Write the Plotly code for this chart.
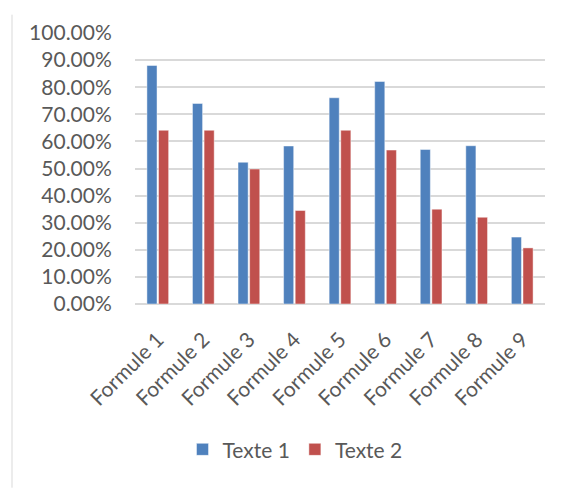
import plotly.graph_objects as go

categories = ["Formule 1", "Formule 2", "Formule 3", "Formule 4", "Formule 5",
              "Formule 6", "Formule 7", "Formule 8", "Formule 9"]
texte1 = [0.88, 0.74, 0.523, 0.583, 0.761, 0.821, 0.57, 0.584, 0.247]
texte2 = [0.641, 0.641, 0.498, 0.345, 0.641, 0.568, 0.35, 0.32, 0.207]
series_names = ["Texte 1", "Texte 2"]
colors = ["#4F81BD", "#C0504D"]
yticks = [i / 10 for i in range(11)]

W, H = 571, 488
L, R, T, B = 135, W - 545, 33, H - 304

FONT = "Lato"
TXT = "#595959"
FS = 21

fig = go.Figure()
for name, vals, col in zip(series_names, [texte1, texte2], colors):
    fig.add_trace(go.Bar(
        x=categories, y=vals, name=name,
        marker=dict(color=col, line=dict(color="rgba(255,255,255,0.45)", width=1)),
    ))

fig.update_layout(
    width=W, height=H,
    margin=dict(l=L, r=R, t=T, b=B, pad=0),
    paper_bgcolor="white", plot_bgcolor="white",
    barmode="group", bargap=0.49, bargroupgap=0.13,
    font=dict(family=FONT, size=FS, color=TXT),
    showlegend=True,
    legend=dict(orientation="h", x=(295 - L) / (545 - L), xanchor="center",
                y=-(450 - 304.3) / (304.3 - 33.3), yanchor="middle",
                font=dict(family=FONT, size=FS, color=TXT),
                itemwidth=30, tracegroupgap=0),
)
fig.update_yaxes(range=[0, 1.0], tickvals=yticks, tickformat=".2%",
                 showgrid=True, gridcolor="#D9D9D9", gridwidth=1.5,
                 zeroline=True, zerolinecolor="#D9D9D9", zerolinewidth=1.5,
                 ticks="outside", ticklen=18, tickcolor="rgba(0,0,0,0)",
                 showline=False, fixedrange=True)
fig.update_xaxes(tickangle=-45, ticks="outside", ticklen=14, tickcolor="rgba(0,0,0,0)",
                 showline=False, showgrid=False)

# chart-area frame line on the left
fig.add_shape(type="line", xref="paper", yref="paper",
              x0=(12 - L) / (545 - L), x1=(12 - L) / (545 - L),
              y0=(304.3 - 488) / (304.3 - 33.3), y1=(304.3 - 15) / (304.3 - 33.3),
              line=dict(color="#D9D9D9", width=1))

fig.write_html("out.html")
